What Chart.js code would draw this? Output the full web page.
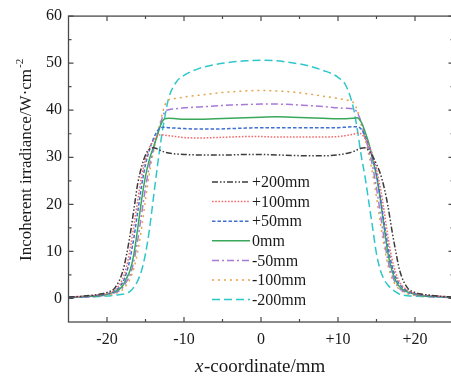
<!DOCTYPE html>
<html><head><meta charset="utf-8">
<script src="https://cdn.jsdelivr.net/npm/chart.js@4"></script>
<style>html,body{margin:0;padding:0;overflow:hidden;background:#fff}canvas{display:block}</style>
</head><body><canvas id="c" width="460" height="380"></canvas>
<script>
const xCoord = [-25,-23,-21,-20,-19,-18,-17.5,-17,-16.5,-16,-15.5,-15,-14.5,-14,-13.5,-13,-12.5,-12,-11,-10,
  -8,-6,-4,-2,0,2,4,6,8,
  10,11,12,12.5,13,13.5,14,14.5,15,15.5,16,16.5,17,17.5,18,19,20,21,23,25];

const seriesLabels = ['+200mm','+100mm','+50mm','0mm','-50mm','-100mm','-200mm'];

const p200 = [0.3,0.5,0.9,1.3,2.2,5.5,9,13.5,19,24.5, 28,30.5,31.7,32,31.8,31.4,31.1,30.9,30.7,30.6,
  30.5,30.5,30.5,30.6,30.6,30.5,30.4,30.3,30.3,
  30.5,30.8,31.2,31.6,31.9,32,31.4,30.2,28.5,26.5, 23.5,19.5,14.5,10,6,2.3,1.3,0.9,0.5,0.3];
const p100 = [0.3,0.5,0.8,1.1,1.8,4,6.5,10.5,15.5,21, 26,29.5,32,33.5,34.5,34.8,34.7,34.6,34.4,34.2,
  34.1,34.2,34.3,34.4,34.4,34.3,34.3,34.3,34.3,
  34.4,34.6,34.9,35.1,35,34,32.5,30.5,27.5,23.5, 18.5,13,8.5,5.5,3.5,1.8,1.1,0.8,0.5,0.3];
const p50 = [0.2,0.4,0.7,1.0,1.6,3.3,5.3,8.5,13,18.5, 24,28.5,31.5,33.8,35.5,36.3,36.4,36.3,36.2,36.1,
  36,36,36.1,36.2,36.3,36.3,36.3,36.3,36.3,
  36.3,36.4,36.5,36.5,36,34.5,32.5,30,26.5,21.5, 16,11,7,4.5,3,1.6,1.0,0.7,0.4,0.2];
const z0 = [0.2,0.4,0.6,0.9,1.4,2.6,4.2,6,9.5,15, 21,26,29.5,32,34.5,37,38.2,38.3,38.2,38.1,
  38.1,38.2,38.3,38.4,38.5,38.6,38.5,38.4,38.3,
  38.2,38.2,38.3,38.4,37.5,35.5,33,29.5,26,21, 15,9.5,6,3.8,2.5,1.4,0.9,0.6,0.4,0.2];
const m50 = [0.2,0.3,0.5,0.8,1.2,2.2,3.5,5,8,12.5, 18,23.5,28,31.5,34.5,37.5,39.6,40.1,40.3,40.5,
  40.7,40.9,41.1,41.2,41.3,41.3,41.2,41.0,40.8,
  40.5,40.4,40.3,39.5,37.5,34.5,31.5,28,23.5,18, 12.5,8,5,3.2,2.1,1.2,0.8,0.5,0.3,0.2];
const m100 = [0.2,0.3,0.5,0.7,1.0,1.8,2.8,4.2,6.5,10, 15,21,26.5,31,34.5,38,41,42.2,42.5,42.8,
  43.2,43.6,43.9,44.1,44.2,44.1,43.9,43.5,43,
  42.5,42.2,41.6,40,37,34,30.5,26.5,21.5,16, 11,7,4.3,2.8,1.9,1.0,0.7,0.5,0.3,0.2];
const m200 = [0.2,0.3,0.4,0.5,0.7,0.9,1.1,1.5,2.4,3.8, 6,9.5,14.5,21,27.5,33.5,38.5,42.5,46,47.4,
  48.9,49.7,50.2,50.5,50.6,50.5,50.1,49.5,48.5,
  47,45.3,40.5,36,30.5,26,20.5,15,9.5,6, 4,2.8,2,1.4,0.9,0.6,0.5,0.4,0.3,0.2];

const xMajor = [-20,-10,0,10,20];
const xTickLabels = ['-20','-10','0','+10','+20'];
const xMinor = [-15,-5,5,15];
const yMajor = [0,10,20,30,40,50,60];
const yMinor = [5,15,25,35,45,55];

const seriesValues = [p200,p100,p50,z0,m50,m100,m200];
const seriesColors = ['#3c3c3c','#f26b6b','#3f6fd0','#3aa85a','#a77ad8','#e4a44a','#2fc6ca'];
const seriesDash = [[6,2,1.5,2,1.5,2],[1.6,1.6],[3.5,2],[],[7,3,2,3],[2,4],[8,4]];

const SERIF = '"Liberation Serif","Times New Roman",serif';

const datasets = seriesLabels.map((lab,i)=>({
  label: lab,
  data: xCoord.map((x,j)=>({x:x, y:seriesValues[i][j]})),
  borderColor: seriesColors[i],
  borderDash: seriesDash[i],
  borderWidth: 1.5,
  pointRadius: 0,
  fill: false,
  cubicInterpolationMode: 'monotone'
}));

const decor = {
  id: 'decor',
  afterDraw(chart){
    const ctx = chart.ctx, a = chart.chartArea, xs = chart.scales.x, ys = chart.scales.y;
    ctx.save();
    ctx.strokeStyle = '#4a4a4a';
    ctx.lineWidth = 1.3;
    ctx.strokeRect(a.left, a.top, a.right-a.left, a.bottom-a.top);
    ctx.lineWidth = 1.2;
    ctx.beginPath();
    const tx = (v,len)=>{const p=xs.getPixelForValue(v);
      ctx.moveTo(p,a.bottom);ctx.lineTo(p,a.bottom-len);
      ctx.moveTo(p,a.top);ctx.lineTo(p,a.top+len);};
    const ty = (v,len)=>{const p=ys.getPixelForValue(v);
      ctx.moveTo(a.left,p);ctx.lineTo(a.left+len,p);
      ctx.moveTo(a.right,p);ctx.lineTo(a.right-len,p);};
    xMajor.forEach(v=>tx(v,5)); xMinor.forEach(v=>tx(v,3));
    yMajor.forEach(v=>ty(v,5)); yMinor.forEach(v=>ty(v,3));
    ctx.stroke();

    const lx0 = 212, lx1 = 250, ly0 = 182, ldy = 19.6;
    ctx.font = '16px ' + SERIF;
    ctx.textBaseline = 'middle';
    ctx.textAlign = 'left';
    chart.data.datasets.forEach((ds,i)=>{
      const y = ly0 + i*ldy;
      ctx.strokeStyle = ds.borderColor;
      ctx.lineWidth = 1.5;
      ctx.setLineDash(ds.borderDash);
      ctx.beginPath(); ctx.moveTo(lx0,y); ctx.lineTo(lx1,y); ctx.stroke();
      ctx.setLineDash([]);
      ctx.fillStyle = '#1a1a1a';
      ctx.fillText(ds.label, lx1+2, y+1);
    });

    ctx.fillStyle = '#1a1a1a';
    ctx.textBaseline = 'alphabetic';
    const fIt = 'italic 19px ' + SERIF, fRg = '19px ' + SERIF;
    ctx.font = fIt; const w1 = ctx.measureText('x').width;
    ctx.font = fRg; const w2 = ctx.measureText('-coordinate/mm').width;
    const sx = 260 - (w1+w2)/2;
    ctx.font = fIt; ctx.fillText('x', sx, 372);
    ctx.font = fRg; ctx.fillText('-coordinate/mm', sx + w1 + 0.5, 372);

    ctx.save();
    ctx.translate(31, 261);
    ctx.rotate(-Math.PI/2);
    ctx.font = '17px ' + SERIF;
    const main = 'Incoherent irradiance/W\u00B7cm';
    ctx.fillText(main, 0, 0);
    const mw = ctx.measureText(main).width;
    ctx.font = '11px ' + SERIF;
    ctx.fillText('-2', mw + 1, -8);
    ctx.restore();
    ctx.restore();
  }
};

new Chart(document.getElementById('c'), {
  type: 'line',
  data: { datasets: datasets },
  options: {
    responsive: false,
    animation: false,
    devicePixelRatio: 1,
    layout: { padding: { top: 13, right: 6.5, left: 0, bottom: 0 } },
    plugins: { legend: { display: false }, tooltip: { enabled: false } },
    scales: {
      x: {
        type: 'linear', min: -25, max: 25,
        grid: { display: false, drawTicks: false, tickLength: 0 }, border: { display: false },
        afterBuildTicks: s => { s.ticks = xMajor.map(v=>({value:v})); },
        afterFit: s => { s.height = 58; },
        ticks: {
          padding: 8, color: '#1a1a1a', maxRotation: 0, autoSkip: false,
          font: { family: SERIF, size: 16 },
          callback: v => xTickLabels[xMajor.indexOf(v)]
        }
      },
      y: {
        type: 'linear', min: -5, max: 60,
        grid: { display: false, drawTicks: false, tickLength: 0 }, border: { display: false },
        afterBuildTicks: s => { s.ticks = yMajor.map(v=>({value:v})); },
        afterFit: s => { s.width = 68.5; },
        ticks: {
          padding: 6.5, color: '#1a1a1a', autoSkip: false,
          font: { family: SERIF, size: 16 },
          callback: v => String(v)
        }
      }
    }
  },
  plugins: [decor]
});
</script>
</body></html>
